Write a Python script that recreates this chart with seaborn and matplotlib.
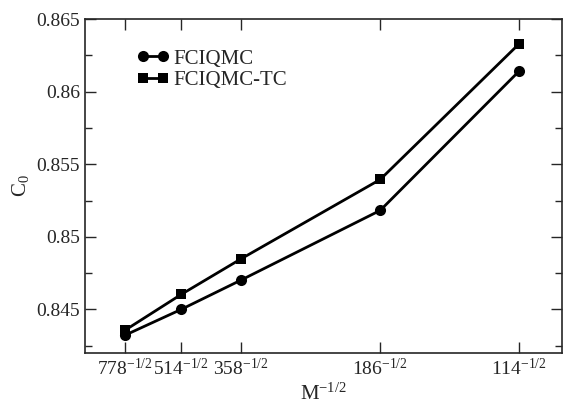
import matplotlib
matplotlib.use('Agg')
import matplotlib.pyplot as plt
import pandas as pd
import seaborn as sns
from matplotlib.ticker import MultipleLocator

# data
M = [778, 514, 358, 186, 114]
fciqmc = [0.84322, 0.84500, 0.84701, 0.85182, 0.86139]
fciqmc_tc = [0.84356, 0.84603, 0.84847, 0.85395, 0.86327]
tick_labels = [r'$\mathregular{%d^{-1/2}}$' % m for m in M]

df = pd.DataFrame({'x': [m ** -0.5 for m in M], 'FCIQMC': fciqmc, 'FCIQMC-TC': fciqmc_tc})

sns.set_style('ticks')
plt.rcParams['font.family'] = ['Liberation Serif', 'DejaVu Serif']
plt.rcParams['mathtext.fontset'] = 'custom'
plt.rcParams['mathtext.rm'] = 'Liberation Serif'
plt.rcParams['mathtext.it'] = 'Liberation Serif:italic'

fig = plt.figure(figsize=(5.64, 4.07), dpi=100)
ax = fig.add_axes([0.1507, 0.1327, 0.8458, 0.8206])

sns.lineplot(data=df, x='x', y='FCIQMC', ax=ax, color='black', linewidth=2,
             marker='o', markersize=8, markeredgewidth=0, label='FCIQMC')
sns.lineplot(data=df, x='x', y='FCIQMC-TC', ax=ax, color='black', linewidth=2,
             marker='s', markersize=7, markeredgewidth=0, label='FCIQMC-TC')

ax.set_xlim(0.03, 0.1)
ax.set_ylim(0.842, 0.865)
ax.set_xticks(df['x'])
ax.set_xticklabels(tick_labels)
ax.yaxis.set_minor_locator(MultipleLocator(0.0025))
ax.set_yticks([0.845, 0.85, 0.855, 0.86, 0.865])
ax.set_yticklabels(['0.845', '0.85', '0.855', '0.86', '0.865'])

ax.tick_params(which='both', direction='in', top=True, right=True, labelsize=14, width=1)
ax.tick_params(which='major', length=8)
ax.tick_params(which='minor', length=5)
for s in ax.spines.values():
    s.set_linewidth(1.2)

ax.set_xlabel(r'M$^{-1/2}$', fontsize=15, labelpad=3)
ax.set_ylabel(r'C$_0$', fontsize=15, labelpad=4)

ax.legend(loc='upper left', bbox_to_anchor=(0.09, 0.935), frameon=False, fontsize=15,
          numpoints=2, handlelength=1.6, handletextpad=0.2, labelspacing=0.1, borderaxespad=0)

fig.savefig('out.png', dpi=100)
